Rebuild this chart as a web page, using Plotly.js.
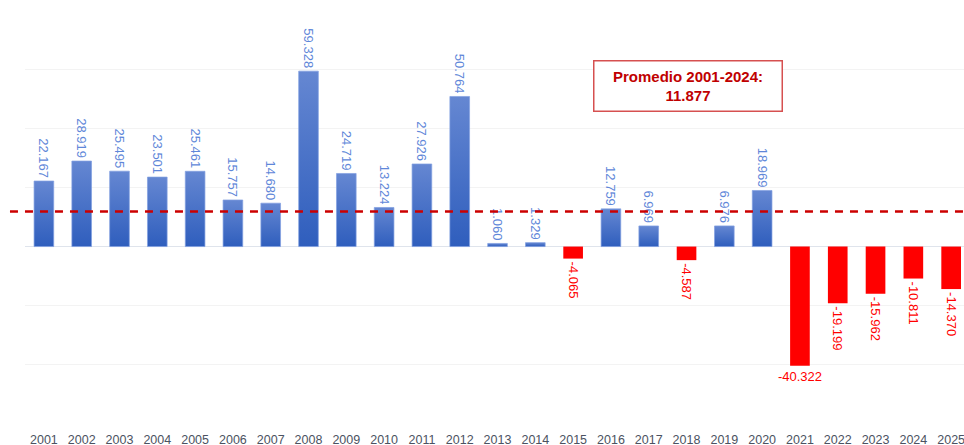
<!DOCTYPE html>
<html>
<head>
<meta charset="utf-8">
<script src="https://cdn.plot.ly/plotly-3.0.1.min.js"></script>
<style>
  html, body { margin: 0; padding: 0; background: #ffffff; overflow: hidden; }
  #chart { width: 964px; height: 445px; }
</style>
</head>
<body>
<div id="chart"></div>
<script>
// ---- data ----
const years = ["2001","2002","2003","2004","2005","2006","2007","2008","2009","2010","2011","2012","2013","2014","2015","2016","2017","2018","2019","2020","2021","2022","2023","2024","2025"];
const values = [22.167, 28.919, 25.495, 23.501, 25.461, 15.757, 14.680, 59.328, 24.719, 13.224, 27.926, 50.764, 1.060, 1.329, -4.065, 12.759, 6.969, -4.587, 6.976, 18.969, -40.322, -19.199, -15.962, -10.811, -14.370];
const average = 11.877;
const averageLabel = "Promedio 2001-2024:<br>11.877";
const horizontalLabelYears = ["2021"];

// ---- split into traces ----
const posX = [], posY = [], negX = [], negY = [], horX = [], horY = [];
years.forEach((yr, i) => {
  const v = values[i];
  if (horizontalLabelYears.includes(yr)) { horX.push(yr); horY.push(v); }
  else if (v >= 0) { posX.push(yr); posY.push(v); }
  else { negX.push(yr); negY.push(v); }
});

const labelFont = { family: "Liberation Sans, Arial, sans-serif", size: 13 };

const traces = [
  {
    type: "bar", x: posX, y: posY,
    marker: { color: "#4a74cc", line: { color: "rgba(130,160,225,0.7)", width: 1 } },
    texttemplate: "%{y:.3f}", textposition: "outside", textangle: 90,
    textfont: Object.assign({ color: "#5f87d9" }, labelFont),
    constraintext: "none", cliponaxis: false, hoverinfo: "x+y"
  },
  {
    type: "bar", x: negX, y: negY,
    marker: { color: "#ff0000" },
    texttemplate: "%{y:.3f}", textposition: "outside", textangle: 90,
    textfont: Object.assign({ color: "#ff0000" }, labelFont),
    constraintext: "none", cliponaxis: false, hoverinfo: "x+y"
  },
  {
    type: "bar", x: horX, y: horY,
    marker: { color: "#ff0000" },
    texttemplate: "%{y:.3f}", textposition: "outside", textangle: 0,
    textfont: Object.assign({ color: "#ff0000" }, labelFont),
    constraintext: "none", cliponaxis: false, hoverinfo: "x+y"
  }
];

const layout = {
  width: 964, height: 445,
  margin: { l: 25, r: 0, t: 9.5, b: 21, pad: 0 },
  paper_bgcolor: "#ffffff", plot_bgcolor: "#ffffff",
  showlegend: false,
  barmode: "overlay",
  bargap: 0.48,
  font: { family: "Liberation Sans, Arial, sans-serif" },
  xaxis: {
    type: "category",
    categoryorder: "array", categoryarray: years,
    range: [-0.5, 24.34],
    showgrid: false, zeroline: false, showline: false,
    ticks: "", ticklabelstandoff: 6,
    tickfont: { size: 12.5, color: "#4b5261", family: "Liberation Sans, Arial, sans-serif" },
    fixedrange: true
  },
  yaxis: {
    range: [-60, 80],
    dtick: 20, tick0: 0,
    showticklabels: false, ticks: "",
    showgrid: true, gridcolor: "#f3f3f3", gridwidth: 1,
    zeroline: true, zerolinecolor: "#dfe4ec", zerolinewidth: 1.5,
    showline: false, fixedrange: true
  },
  shapes: [
    {
      type: "line", xref: "paper", yref: "y",
      x0: -0.016, x1: 1, y0: average, y1: average,
      line: { color: "#cc0000", width: 2.5, dash: "8px,7px" },
      layer: "above"
    }
  ],
  annotations: [
    {
      xref: "paper", yref: "paper",
      x: 0.706, y: 0.8166, xanchor: "center", yanchor: "middle",
      text: averageLabel, showarrow: false,
      font: { family: "Liberation Sans, Arial, sans-serif", size: 15, color: "#c00000", weight: "bold" },
      bgcolor: "#ffffff", bordercolor: "#d65050", borderwidth: 1.5, borderpad: 1,
      width: 185, height: 47, align: "center"
    }
  ]
};

Plotly.newPlot("chart", traces, layout, { displayModeBar: false, staticPlot: true }).then(gd => {
  try {
    const svg = gd.querySelector("svg.main-svg");
    const NS = "http://www.w3.org/2000/svg";
    let defs = svg.querySelector("defs");
    if (!defs) { defs = document.createElementNS(NS, "defs"); svg.insertBefore(defs, svg.firstChild); }
    const grad = document.createElementNS(NS, "linearGradient");
    grad.setAttribute("id", "blueGrad");
    grad.setAttribute("x1", "0"); grad.setAttribute("y1", "0");
    grad.setAttribute("x2", "0"); grad.setAttribute("y2", "1");
    [["0%", "#6587d2"], ["100%", "#2f5ebd"]].forEach(([o, c]) => {
      const s = document.createElementNS(NS, "stop");
      s.setAttribute("offset", o); s.setAttribute("stop-color", c);
      grad.appendChild(s);
    });
    defs.appendChild(grad);
    const firstTrace = gd.querySelectorAll(".barlayer .trace")[0];
    if (firstTrace) {
      firstTrace.querySelectorAll(".point path").forEach(p => { p.style.fill = "url(#blueGrad)"; });
    }
  } catch (e) {}
});
</script>
</body>
</html>
